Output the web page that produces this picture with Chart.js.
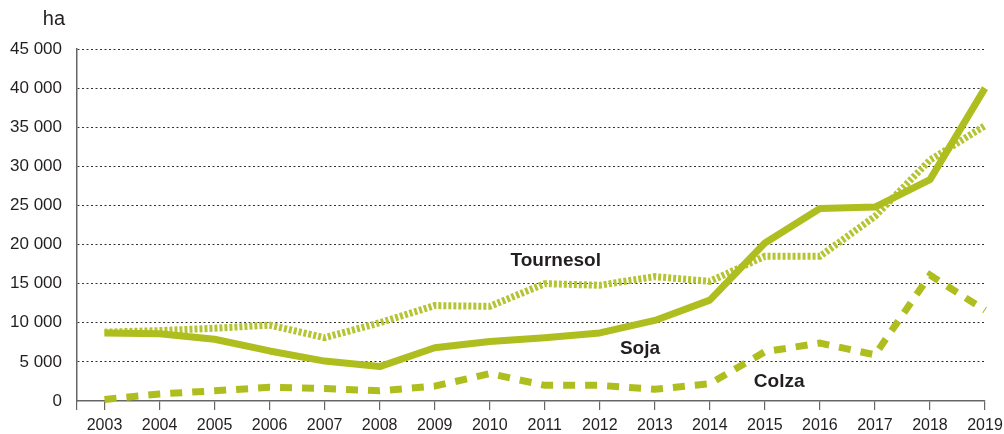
<!DOCTYPE html>
<html><head><meta charset="utf-8">
<script src="https://cdn.jsdelivr.net/npm/chart.js@4.4.0/dist/chart.umd.min.js"></script>
<style>html,body{margin:0;padding:0;background:#fff}#wrap{width:1004px;height:434px}</style>
</head><body><div id="wrap"><canvas id="c" width="1004" height="434"></canvas></div>
<script>
const years = [2003,2004,2005,2006,2007,2008,2009,2010,2011,2012,2013,2014,2015,2016,2017,2018,2019];
const soja = [8700,8600,7900,6400,5100,4400,6800,7600,8100,8700,10300,12900,20200,24600,24800,28300,40000];
const tournesol = [8800,9000,9300,9700,8100,10000,12200,12100,15000,14800,15900,15300,18500,18500,23600,30800,35200];
const colza = [200,900,1300,1750,1600,1300,1900,3500,2000,2000,1500,2200,6300,7400,5900,16100,11600];
const yTicks = [0,5000,10000,15000,20000,25000,30000,35000,40000,45000];
const seriesLabels = [
  {text:'Tournesol', x:2011.2, y:17900},
  {text:'Soja', x:2012.73, y:6700},
  {text:'Colza', x:2015.26, y:2450}
];
const unitLabel = 'ha';

const green = '#afbe1f';
const greenLight = '#b5c433';
const fmt = v => String(v).replace(/\B(?=(\d{3})+(?!\d))/g, ' ');

const labelsPlugin = {
  id:'labels',
  afterDatasetsDraw(chart){
    const ctx = chart.ctx, xs = chart.scales.x, ys = chart.scales.y;
    ctx.save();
    ctx.fillStyle = '#231f20';
    ctx.font = 'bold 19px "Liberation Sans", Arial, sans-serif';
    ctx.textAlign = 'center'; ctx.textBaseline = 'middle';
    seriesLabels.forEach(l => ctx.fillText(l.text, xs.getPixelForValue(l.x), ys.getPixelForValue(l.y)));
    ctx.font = '20px "Liberation Sans", Arial, sans-serif';
    ctx.textAlign = 'right'; ctx.fillStyle = '#231f20';
    ctx.fillText(unitLabel, 65, 19);
    ctx.restore();
  }
};

const pts = arr => arr.map((v,i)=>({x:years[i], y:v}));

new Chart(document.getElementById('c'), {
  type:'line',
  data:{datasets:[
    {label:'Soja', data:pts(soja), borderColor:green, borderWidth:7, pointRadius:0, tension:0, borderJoinStyle:'round', order:0},
    {label:'Tournesol', data:pts(tournesol), borderColor:greenLight, borderWidth:7, borderDash:[3,2], pointRadius:0, tension:0, order:1},
    {label:'Colza', data:pts(colza), borderColor:green, borderWidth:7, borderDash:[12,10], pointRadius:0, tension:0, order:2}
  ]},
  options:{
    responsive:false, animation:false, clip:false,
    layout:{padding:{left:0,right:19,top:49,bottom:0}},
    plugins:{legend:{display:false}, tooltip:{enabled:false}},
    scales:{
      x:{type:'linear', min:2002.5, max:2019,
        afterBuildTicks(s){ s.ticks = [{value:2002.5}].concat(years.map(v=>({value:v}))); },
        afterFit(s){ s.height = 33; s.paddingLeft = 0; s.paddingRight = 0; },
        ticks:{autoSkip:false, maxRotation:0, padding:6, color:'#231f20',
          font:{family:'"Liberation Sans Narrow", "Arial Narrow", sans-serif', size:16},
          callback:v => Number.isInteger(v) ? String(v) : ''},
        grid:{drawOnChartArea:false, drawTicks:true, tickLength:9, color:'#666', lineWidth:1.2},
        border:{display:true, color:'#666', width:1.5}
      },
      y:{min:0, max:45000,
        afterBuildTicks(s){ s.ticks = yTicks.map(v=>({value:v})); },
        afterFit(s){ s.width = 77; },
        ticks:{padding:15, color:'#231f20',
          font:{family:'"Liberation Sans", Arial, sans-serif', size:17},
          callback:v => fmt(v)},
        grid:{drawTicks:false, color:ctx => ctx.tick && ctx.tick.value === 0 ? 'rgba(0,0,0,0)' : '#333', lineWidth:1},
        border:{display:true, color:'#666', width:1.5, dash:[2,2.5]}
      }
    }
  },
  plugins:[labelsPlugin]
});
</script></body></html>
